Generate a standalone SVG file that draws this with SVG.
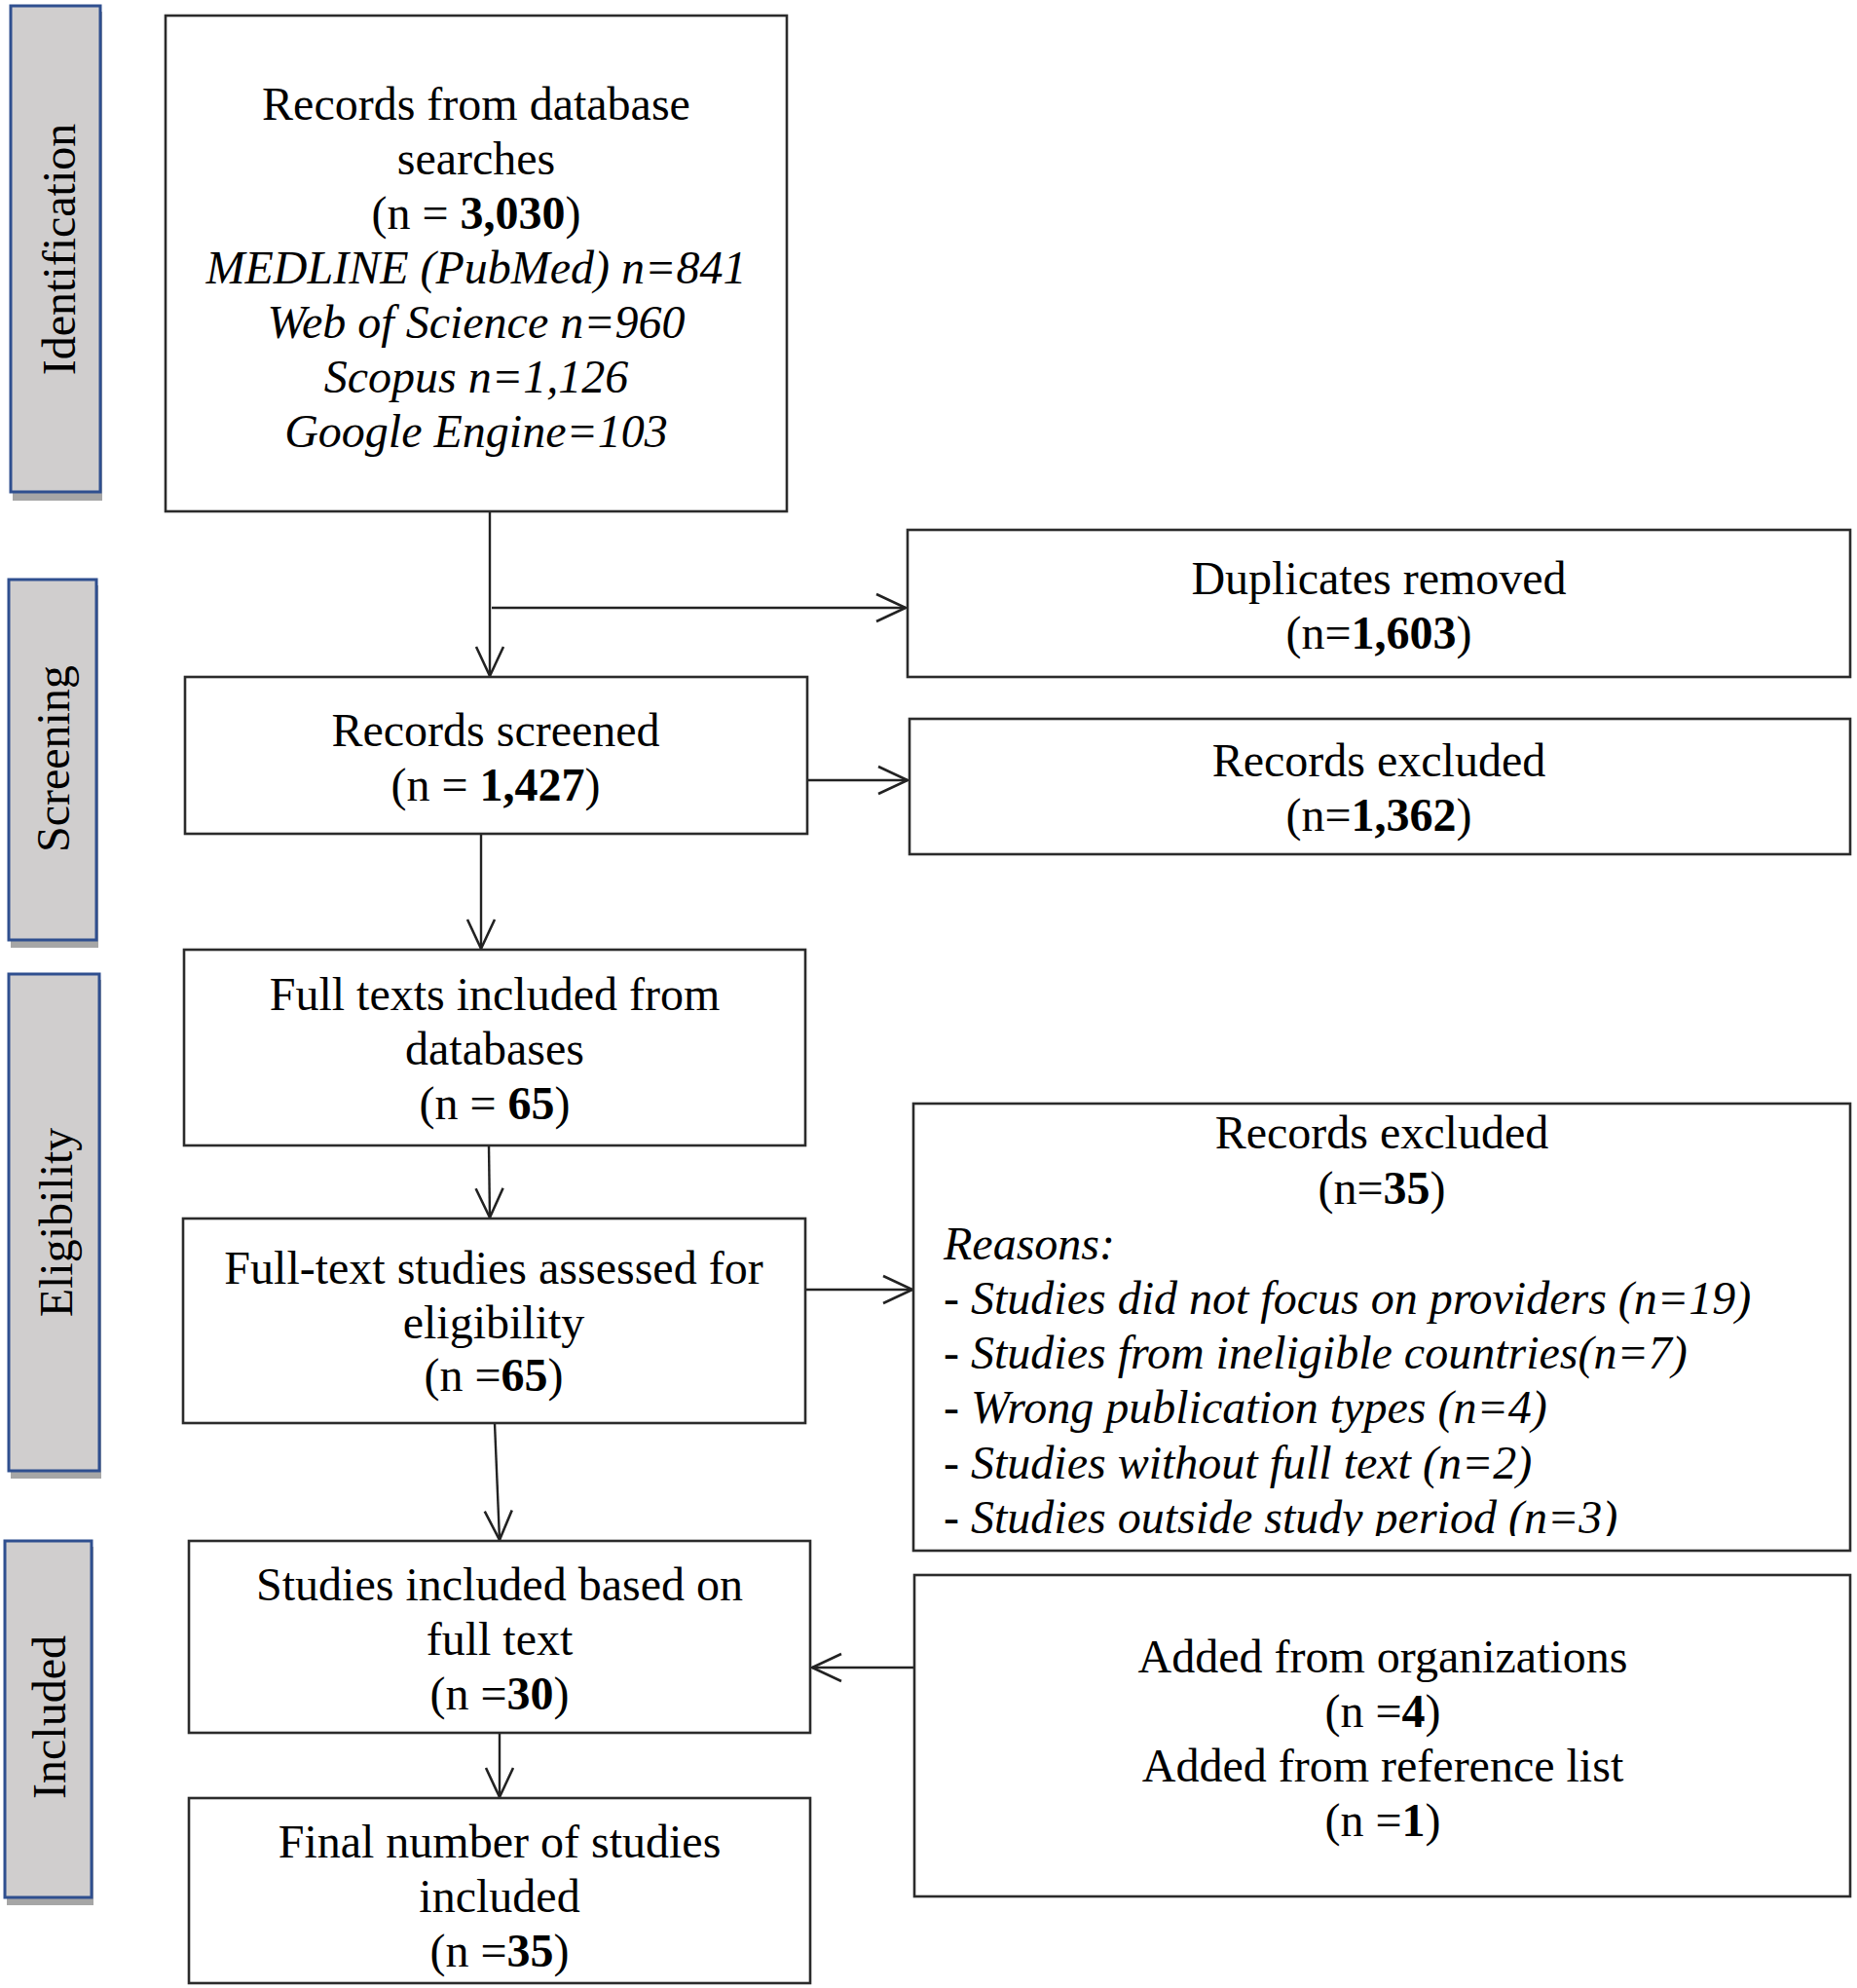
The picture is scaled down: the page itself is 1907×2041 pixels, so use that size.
<svg xmlns="http://www.w3.org/2000/svg" width="1907" height="2041" viewBox="0 0 1907 2041">
<defs>
<style>
.bg{fill:#ffffff}
.box{fill:#ffffff;stroke:#2b2b2b;stroke-width:2.6}
.side{fill:#d0cece;stroke:#2f4f8f;stroke-width:3}
.shadow{fill:#a6a6a6}
.t{font-family:"Liberation Serif","Times New Roman",serif;font-size:48px;fill:#000;text-anchor:middle}
.tl{font-family:"Liberation Serif","Times New Roman",serif;font-size:48px;fill:#000;text-anchor:start;font-style:italic}
.i{font-style:italic}
.b{font-weight:bold}
.c{fill:none;stroke:#222;stroke-width:2.4}
</style>
<marker id="ah" markerUnits="userSpaceOnUse" markerWidth="40" markerHeight="40" viewBox="-36 -20 40 40" refX="0" refY="0" orient="auto">
<path d="M-30,-14 L0,0 L-30,14" fill="none" stroke="#222" stroke-width="2.6"/>
</marker>
<clipPath id="rclip"><rect x="938" y="1133" width="962" height="444"/></clipPath>
</defs>
<rect class="bg" x="0" y="0" width="1907" height="2041"/>

<g id="side-identification">
<rect class="shadow" x="13" y="12" width="92" height="502"/>
<rect class="side" x="11" y="6" width="92" height="499"/>
<text class="t" transform="translate(77,256) rotate(-90)">Identification</text>
</g>
<g id="side-screening">
<rect class="shadow" x="11" y="601" width="90" height="372"/>
<rect class="side" x="9" y="595" width="90" height="370"/>
<text class="t" transform="translate(71,779) rotate(-90)">Screening</text>
</g>
<g id="side-eligibility">
<rect class="shadow" x="11" y="1006" width="93" height="512"/>
<rect class="side" x="9" y="1000" width="93" height="510"/>
<text class="t" transform="translate(74,1255) rotate(-90)">Eligibility</text>
</g>
<g id="side-included">
<rect class="shadow" x="7" y="1588" width="89" height="368"/>
<rect class="side" x="5" y="1582" width="89" height="366"/>
<text class="t" transform="translate(67,1763) rotate(-90)">Included</text>
</g>

<g id="connectors">
<line class="c" x1="503" y1="525" x2="503" y2="694" marker-end="url(#ah)"/>
<line class="c" x1="505" y1="624" x2="930" y2="624" marker-end="url(#ah)"/>
<line class="c" x1="829" y1="801" x2="932" y2="801" marker-end="url(#ah)"/>
<line class="c" x1="494" y1="856" x2="494" y2="974" marker-end="url(#ah)"/>
<line class="c" x1="502" y1="1176" x2="503" y2="1250" marker-end="url(#ah)"/>
<line class="c" x1="827" y1="1324" x2="937" y2="1324" marker-end="url(#ah)"/>
<line class="c" x1="508" y1="1461" x2="513" y2="1581" marker-end="url(#ah)"/>
<line class="c" x1="939" y1="1712" x2="834" y2="1712" marker-end="url(#ah)"/>
<line class="c" x1="513" y1="1779" x2="513" y2="1845" marker-end="url(#ah)"/>
</g>

<g id="node-records-database">
<rect class="box" x="170" y="16" width="638" height="509"/>
<text class="t" x="489" y="123">Records from database</text>
<text class="t" x="489" y="179">searches</text>
<text class="t" x="489" y="235">(n = <tspan class="b">3,030</tspan>)</text>
<text class="t i" x="489" y="291">MEDLINE (PubMed) n=841</text>
<text class="t i" x="489" y="347">Web of Science n=960</text>
<text class="t i" x="489" y="403">Scopus n=1,126</text>
<text class="t i" x="489" y="459">Google Engine=103</text>
</g>

<g id="node-duplicates">
<rect class="box" x="932" y="544" width="968" height="151"/>
<text class="t" x="1416" y="610">Duplicates removed</text>
<text class="t" x="1416" y="666">(n=<tspan class="b">1,603</tspan>)</text>
</g>

<g id="node-screened">
<rect class="box" x="190" y="695" width="639" height="161"/>
<text class="t" x="509" y="766">Records screened</text>
<text class="t" x="509" y="822">(n = <tspan class="b">1,427</tspan>)</text>
</g>

<g id="node-excluded-1">
<rect class="box" x="934" y="738" width="966" height="139"/>
<text class="t" x="1416" y="797">Records excluded</text>
<text class="t" x="1416" y="853">(n=<tspan class="b">1,362</tspan>)</text>
</g>

<g id="node-fulltexts">
<rect class="box" x="189" y="975" width="638" height="201"/>
<text class="t" x="508" y="1037">Full texts included from</text>
<text class="t" x="508" y="1093">databases</text>
<text class="t" x="508" y="1149">(n = <tspan class="b">65</tspan>)</text>
</g>

<g id="node-assessed">
<rect class="box" x="188" y="1251" width="639" height="210"/>
<text class="t" x="507" y="1318">Full-text studies assessed for</text>
<text class="t" x="507" y="1374">eligibility</text>
<text class="t" x="507" y="1428">(n =<tspan class="b">65</tspan>)</text>
</g>

<g id="node-excluded-2">
<rect class="box" x="938" y="1133" width="962" height="459"/>
<text class="t" x="1419" y="1179">Records excluded</text>
<text class="t" x="1419" y="1236">(n=<tspan class="b">35</tspan>)</text>
<g clip-path="url(#rclip)">
<text class="tl" x="969" y="1293">Reasons:</text>
<text class="tl" x="969" y="1349"><tspan font-style="normal">- </tspan>Studies did not focus on providers (n=19)</text>
<text class="tl" x="969" y="1405"><tspan font-style="normal">- </tspan>Studies from ineligible countries(n=7)</text>
<text class="tl" x="969" y="1461"><tspan font-style="normal">- </tspan>Wrong publication types (n=4)</text>
<text class="tl" x="969" y="1518"><tspan font-style="normal">- </tspan>Studies without full text (n=2)</text>
<text class="tl" x="969" y="1574"><tspan font-style="normal">- </tspan>Studies outside study period (n=3)</text>
</g>
</g>

<g id="node-included">
<rect class="box" x="194" y="1582" width="638" height="197"/>
<text class="t" x="513" y="1643">Studies included based on</text>
<text class="t" x="513" y="1699">full text</text>
<text class="t" x="513" y="1755">(n =<tspan class="b">30</tspan>)</text>
</g>

<g id="node-added">
<rect class="box" x="939" y="1617" width="961" height="330"/>
<text class="t" x="1420" y="1717">Added from organizations</text>
<text class="t" x="1420" y="1773">(n =<tspan class="b">4</tspan>)</text>
<text class="t" x="1420" y="1829">Added from reference list</text>
<text class="t" x="1420" y="1885">(n =<tspan class="b">1</tspan>)</text>
</g>

<g id="node-final">
<rect class="box" x="194" y="1846" width="638" height="190"/>
<text class="t" x="513" y="1907">Final number of studies</text>
<text class="t" x="513" y="1963">included</text>
<text class="t" x="513" y="2019">(n =<tspan class="b">35</tspan>)</text>
</g>
</svg>
